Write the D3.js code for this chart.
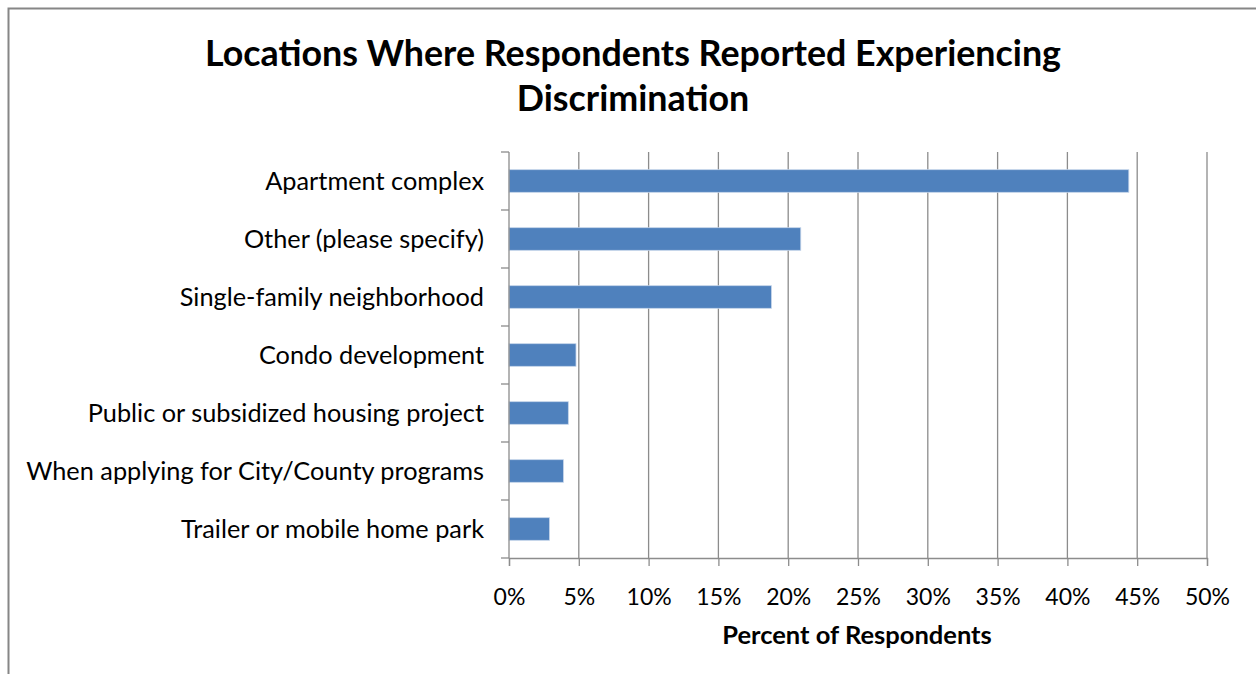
<!DOCTYPE html>
<html>
<head>
<meta charset="utf-8">
<script src="https://cdn.jsdelivr.net/npm/d3@7"></script>
<style>
  html, body { margin: 0; padding: 0; background: #fff; }
  svg { display: block; }
  text { font-family: Lato, "Open Sans", sans-serif; fill: #000; }
</style>
</head>
<body>
<svg id="chart" width="1256" height="674"></svg>
<script>
// Survey locations and share of respondents (%)
const categories = [
  "Apartment complex",
  "Other (please specify)",
  "Single-family neighborhood",
  "Condo development",
  "Public or subsidized housing project",
  "When applying for City/County programs",
  "Trailer or mobile home park"
];
const values = [44.4, 20.9, 18.8, 4.8, 4.25, 3.9, 2.9];
const xTicks = [0, 5, 10, 15, 20, 25, 30, 35, 40, 45, 50];
const titleLines = ["Locations Where Respondents Reported Experiencing", "Discrimination"];
const xAxisTitle = "Percent of Respondents";

const svg = d3.select("#chart");
const W = 1256, H = 674;

// Outer chart frame
svg.append("rect")
  .attr("x", 8.5).attr("y", 8.5)
  .attr("width", W + 10).attr("height", H + 10)
  .attr("fill", "#fff")
  .attr("stroke", "#868686").attr("stroke-width", 2);

const plot = { left: 509, right: 1207, top: 152, bottom: 558 };

const x = d3.scaleLinear().domain([0, 50]).range([plot.left, plot.right]);
const y = d3.scaleBand().domain(categories).range([plot.top, plot.bottom]).paddingInner(0.61).paddingOuter(0.305);
const yEdges = d3.scaleLinear().domain([0, categories.length]).range([plot.top, plot.bottom]);

// Vertical gridlines
svg.append("g").selectAll("line")
  .data(xTicks.filter(t => t > 0))
  .join("line")
  .attr("x1", d => x(d)).attr("x2", d => x(d))
  .attr("y1", plot.top).attr("y2", plot.bottom)
  .attr("stroke", "#8c8c8c").attr("stroke-width", 1.3);

// Bars
svg.append("g").selectAll("rect")
  .data(categories)
  .join("rect")
  .attr("x", x(0))
  .attr("y", d => y(d))
  .attr("width", (d, i) => x(values[i]) - x(0))
  .attr("height", y.bandwidth())
  .attr("fill", "#4f81bd")
  .attr("stroke", "#c6d5ea").attr("stroke-width", 0.8);

// X axis
const xAxis = d3.axisBottom(x).tickValues(xTicks).tickFormat(d => d + "%").tickSize(8).tickPadding(23);
const gx = svg.append("g").attr("transform", `translate(0,${plot.bottom})`).call(xAxis);
gx.select(".domain").attr("stroke", "#8c8c8c").attr("stroke-width", 1.3);
gx.selectAll(".tick line").attr("stroke", "#8c8c8c").attr("stroke-width", 1.3);
gx.selectAll(".tick text").style("font-size", "23px").style("font-family", "Lato, sans-serif").attr("fill", "#000");

// Y axis line with category divider ticks
svg.append("line")
  .attr("x1", plot.left).attr("x2", plot.left)
  .attr("y1", plot.top).attr("y2", plot.bottom)
  .attr("stroke", "#8c8c8c").attr("stroke-width", 1.3);
svg.append("g").selectAll("line")
  .data(d3.range(categories.length + 1))
  .join("line")
  .attr("x1", plot.left - 8).attr("x2", plot.left)
  .attr("y1", d => yEdges(d)).attr("y2", d => yEdges(d))
  .attr("stroke", "#8c8c8c").attr("stroke-width", 1.3);

// Category labels
svg.append("g").selectAll("text")
  .data(categories)
  .join("text")
  .attr("x", 484)
  .attr("y", d => y(d) + y.bandwidth() / 2)
  .attr("dy", "0.35em")
  .attr("text-anchor", "end")
  .style("font-size", "25.3px")
  .text(d => d);

// Title
svg.append("g").selectAll("text")
  .data(titleLines)
  .join("text")
  .attr("x", 633)
  .attr("y", (d, i) => 66 + i * 45)
  .attr("text-anchor", "middle")
  .style("font-size", "35.8px")
  .style("font-weight", "bold")
  .text(d => d);

// X axis title
svg.append("text")
  .attr("x", 857).attr("y", 644)
  .attr("text-anchor", "middle")
  .style("font-size", "25.5px")
  .style("font-weight", "bold")
  .text(xAxisTitle);
</script>
</body>
</html>
